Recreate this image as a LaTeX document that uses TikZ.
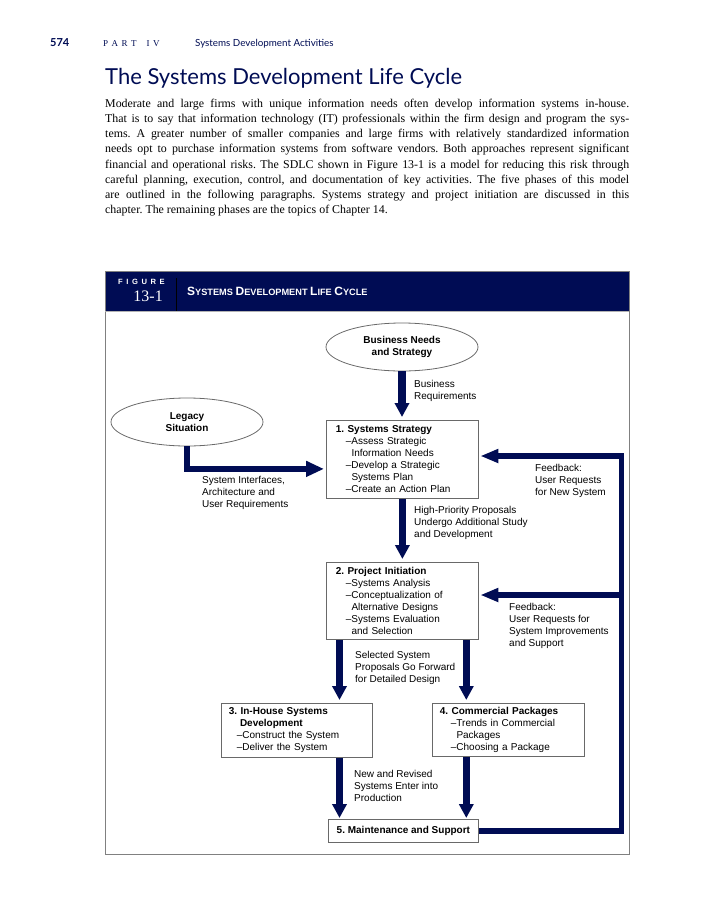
\documentclass[tikz,border=0pt]{standalone}
\usepackage{fontspec}
\setmainfont{Liberation Serif}
\newfontfamily\diagfont{Liberation Sans}
\newfontfamily\headfont{Lato}
\usetikzlibrary{positioning, shapes.geometric, arrows.meta}

\definecolor{navy}{RGB}{0,12,84}
\definecolor{framegray}{RGB}{128,128,128}
\definecolor{boxgray}{RGB}{105,105,105}

\newcommand{\dashitem}[2][10pt]{\hspace*{#1}\textendash#2}
\newcommand{\contline}[2][15.6pt]{\hspace*{#1}#2}
\newcommand{\bandsc}[2]{{\fontsize{12}{12}\selectfont #1}{\fontsize{9.2}{12}\selectfont #2}}
\newcommand{\fullline}[1]{\makebox[524pt][s]{#1}}
\frenchspacing

\begin{document}
\begin{tikzpicture}[x=1pt, y=-1pt,
		phase/.style={rectangle, draw=boxgray, line width=0.8pt, fill=white, anchor=north west, inner ysep=0pt, align=left, font=\diagfont\fontsize{10}{12}\selectfont},
		source/.style={ellipse, draw=boxgray, line width=0.8pt, minimum width=152pt, minimum height=48pt, inner sep=0pt, align=center, font=\diagfont\bfseries\fontsize{10}{12.5}\selectfont},
		note/.style={anchor=north west, inner sep=0pt, align=left, font=\diagfont\fontsize{10}{12}\selectfont},
		flow/.style={draw=navy, line width=7.5pt, -{Triangle[width=14pt, length=14pt]}},
		link/.style={draw=navy, line width=6.5pt, -{Triangle[width=15pt, length=18pt]}},
		feedback/.style={draw=navy, line width=5.5pt, -{Triangle[width=13pt, length=18pt]}}
		]
		
		\useasboundingbox (0,0) rectangle (719,900);
		
		% Page header
		\node (pgno) [anchor=base west, inner sep=0pt, text=navy, font=\headfont\bfseries\fontsize{11}{11}\selectfont] at (50,46) {574};
		\node (part) [anchor=base west, inner sep=0pt, text=navy, font=\fontsize{9}{9}\selectfont] at (103,46) {P\kern3.5pt A\kern3.5pt R\kern3.5pt T\kern10pt I\kern3.5pt V};
		\node (runhead) [anchor=base west, inner sep=0pt, text=navy, font=\headfont\fontsize{9.8}{10}\selectfont] at (195,46) {Systems Development Activities};
		\node (title) [anchor=base west, inner sep=0pt, text=navy, font=\headfont\fontsize{22}{22}\selectfont] at (105,84.8) {The Systems Development Life Cycle};
		\node (body) [anchor=north west, inner sep=0pt, align=left, font=\fontsize{11.9}{15.2}\selectfont] at (105,98.7) {%
			\fullline{Moderate and large firms with unique information needs often develop information systems in-house.}\\
			\fullline{That is to say that information technology (IT) professionals within the firm design and program the sys-}\\
			\fullline{tems. A greater number of smaller companies and large firms with relatively standardized information}\\
			\fullline{needs opt to purchase information systems from software vendors. Both approaches represent significant}\\
			\fullline{financial and operational risks. The SDLC shown in Figure 13-1 is a model for reducing this risk through}\\
			\fullline{careful planning, execution, control, and documentation of key activities. The five phases of this model}\\
			\fullline{are outlined in the following paragraphs. Systems strategy and project initiation are discussed in this}\\
			chapter. The remaining phases are the topics of Chapter 14.};
		
		% Figure frame
		\fill [navy] (105,271) rectangle (629,311);
		\draw [framegray, line width=1pt] (105,271) rectangle (629,854);
		\draw [framegray!60, line width=1pt] (105,311) -- (629,311);
		\draw [black, line width=0.8pt] (176,278) -- (176,311);
		\node (figlbl) [anchor=base east, inner sep=0pt, text=white, font=\diagfont\bfseries\fontsize{7.6}{8}\selectfont] at (165,284.3) {F\kern3.6pt I\kern3.6pt G\kern3.6pt U\kern3.6pt R\kern3.6pt E};
		\node (fignum) [anchor=base east, inner sep=0pt, text=white, font=\fontsize{16}{16}\selectfont] at (163,301.7) {13-1};
		\node (figtitle) [anchor=base west, inner sep=0pt, text=white, font=\diagfont\bfseries\fontsize{9.2}{12}\selectfont] at (187,295) {\bandsc{S}{YSTEMS} \bandsc{D}{EVELOPMENT} \bandsc{L}{IFE} \bandsc{C}{YCLE}};
		
		% Nodes
		\node (bn) [source] at (402,347) {Business Needs\\and Strategy};
		\node (ls) [source] at (187,422) {Legacy\\Situation};
		\node (ss) [phase, inner xsep=9.5pt, text width=133pt, minimum height=78pt] at (326,420) {\textbf{1. Systems Strategy}\\
			\dashitem{Assess Strategic}\\ \contline{Information Needs}\\
			\dashitem{Develop a Strategic}\\ \contline{Systems Plan}\\
			\dashitem{Create an Action Plan}};
		\node (pi) [phase, inner xsep=9.5pt, text width=133pt, minimum height=77pt] at (326,562) {\textbf{2. Project Initiation}\\
			\dashitem{Systems Analysis}\\
			\dashitem{Conceptualization of}\\ \contline{Alternative Designs}\\
			\dashitem{Systems Evaluation}\\ \contline{and Selection}};
		\node (ih) [phase, inner xsep=7.5pt, text width=136pt, minimum height=54pt] at (221,703) {\textbf{3. In-House Systems}\\
			\contline[11.1pt]{\textbf{Development}}\\
			\dashitem[8pt]{Construct the System}\\
			\dashitem[8pt]{Deliver the System}};
		\node (cp) [phase, inner xsep=7.5pt, text width=137pt, minimum height=53pt] at (432,703) {\textbf{4. Commercial Packages}\\
			\dashitem[11pt]{Trends in Commercial}\\ \contline[16.6pt]{Packages}\\
			\dashitem[11pt]{Choosing a Package}};
		\node (mt) [phase, inner xsep=4pt, minimum width=150pt, minimum height=23pt] at (328,819) {\textbf{5. Maintenance and Support}};
		
		% Labels
		\node (busreq) [note] at (414,380) {Business\\Requirements};
		\node (sysif) [note] at (202,476) {System Interfaces,\\Architecture and\\User Requirements};
		\node (fbnew) [note] at (535,464) {Feedback:\\User Requests\\for New System};
		\node (hiprio) [note] at (414,506) {High-Priority Proposals\\Undergo Additional Study\\and Development};
		\node (fbimp) [note] at (509,603.5) {Feedback:\\User Requests for\\System Improvements\\and Support};
		\node (selsys) [note] at (355,651) {Selected System\\Proposals Go Forward\\for Detailed Design};
		\node (newrev) [note] at (354,770) {New and Revised\\Systems Enter into\\Production};
		
		\coordinate (fbtop) at (621.5,456);
		\coordinate (fbmid) at (621.5,595);
		\coordinate (pl) at ([xshift=13.5pt]pi.south west);
		\coordinate (pr) at ([xshift=-12.5pt]pi.south east);
		
		% Arrows
		\draw [flow, shorten >=3pt] (bn.south) -- (bn.south |- ss.north);
		\draw [link, shorten >=2pt] (ls.south) |- ([yshift=-9.5pt]ss.west);
		\draw [flow, shorten >=3pt] (ss.south) -- (pi.north);
		\draw [flow, shorten >=3pt] (pl) -- (pl |- ih.north);
		\draw [flow, shorten >=3pt] (pr) -- (pr |- cp.north);
		\draw [flow, shorten >=1pt] (pl |- ih.south) -- (pl |- mt.north);
		\draw [flow, shorten >=1pt] (pr |- cp.south) -- (pr |- mt.north);
		\draw [feedback, shorten >=1.5pt] (mt.east) -| (fbtop) -- (ss.east |- fbtop);
		\draw [feedback, shorten >=1.5pt] (fbmid) -- (pi.east |- fbmid);
		
	\end{tikzpicture}
\end{document}
